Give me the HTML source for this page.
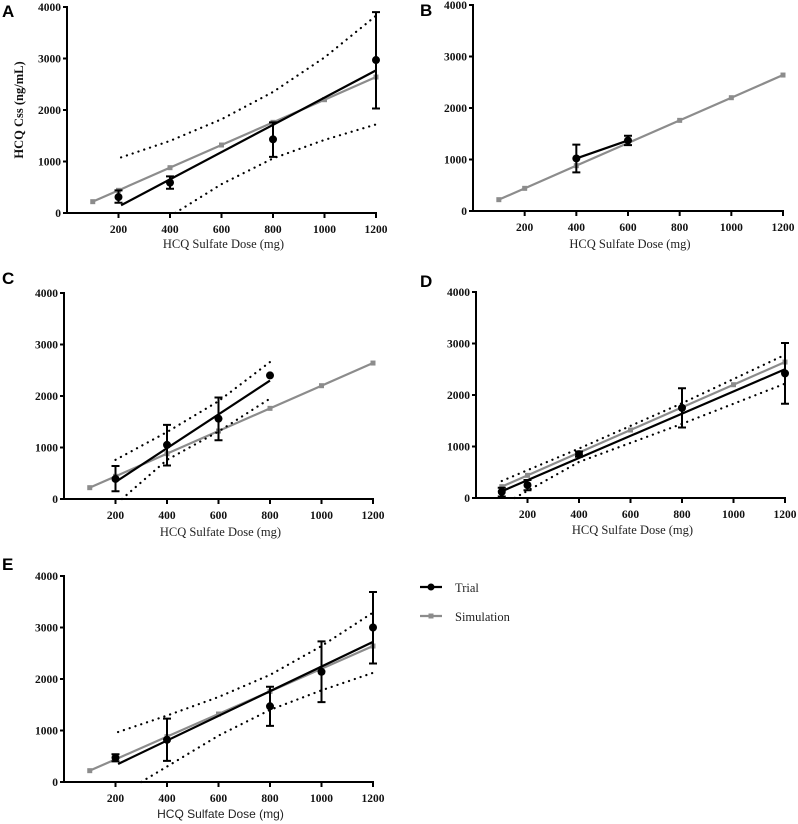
<!DOCTYPE html>
<html><head><meta charset="utf-8">
<style>
html,body{margin:0;padding:0;background:#fff;}
svg{display:block;}
.tick{font-family:"Liberation Serif",serif;font-weight:bold;font-size:11.5px;fill:#111;}
.xt{font-family:"Liberation Serif",serif;font-size:12.5px;fill:#222;}
.xts{font-family:"Liberation Sans",sans-serif;font-size:12px;fill:#222;}
.pl{font-family:"Liberation Sans",sans-serif;font-weight:bold;font-size:17px;fill:#000;}
.yt{font-family:"Liberation Serif",serif;font-weight:bold;font-size:12.5px;fill:#111;}
.lg{font-family:"Liberation Serif",serif;font-size:12.5px;fill:#222;}
</style></head>
<body>
<svg id="chart" width="798" height="824" viewBox="0 0 798 824" xmlns="http://www.w3.org/2000/svg"></svg>
<script>
const xTicks=[200,400,600,800,1000,1200];
const yTicks=[0,1000,2000,3000,4000];
const simDose=[100,200,400,600,800,1000,1200];
const simConc=[220,440,880,1320,1760,2200,2640];

const aDose=[200,400,800,1200];
const aMean=[310,590,1430,2970];
const aLo=[200,470,1090,2030];
const aHi=[440,710,1760,3900];
const aFitX=[210,1200];
const aFitY=[150,2770];
const aUpX=[210,400,600,800,1000,1200];
const aUpY=[1080,1400,1820,2350,3020,3830];
const aLoX=[420,600,800,1000,1200];
const aLoY=[0,560,1060,1420,1720];

const bDose=[400,600];
const bMean=[1020,1370];
const bLo=[750,1280];
const bHi=[1290,1460];
const bFitX=[400,600];
const bFitY=[1020,1370];

const cDose=[200,400,600,800];
const cMean=[390,1050,1560,2400];
const cLo=[150,650,1140,2400];
const cHi=[640,1440,1970,2400];
const cFitX=[200,800];
const cFitY=[330,2300];
const cUpX=[200,400,600,800];
const cUpY=[760,1300,1900,2660];
const cLoX=[225,400,600,800];
const cLoY=[0,760,1310,1950];

const dDose=[100,200,400,800,1200];
const dMean=[120,250,850,1750,2420];
const dLo=[30,150,800,1370,1830];
const dHi=[200,350,900,2130,3010];
const dFitX=[100,1200];
const dFitY=[130,2500];
const dUpX=[100,400,800,1200];
const dUpY=[330,960,1840,2780];
const dLoX=[150,400,800,1200];
const dLoY=[0,700,1440,2220];

const eDose=[200,400,800,1000,1200];
const eMean=[470,820,1470,2140,3000];
const eLo=[400,410,1090,1550,2300];
const eHi=[540,1230,1850,2730,3690];
const eFitX=[210,1200];
const eFitY=[350,2720];
const eUpX=[210,400,600,800,1000,1200];
const eUpY=[970,1290,1650,2080,2640,3290];
const eLoX=[300,400,600,800,1000,1200];
const eLoY=[0,300,900,1400,1780,2120];

const svg=document.getElementById('chart');
const NS='http://www.w3.org/2000/svg';
function mk(tag,attrs,parent,text){const e=document.createElementNS(NS,tag);for(const k in attrs)e.setAttribute(k,attrs[k]);if(text!==undefined)e.textContent=text;parent.appendChild(e);return e;}

const panels=[
 {id:'a',x0:67,x1:376,y0:213,y1:7,lbl:'A',lx:2,ly:17,tt:248,sans:false,dose:aDose,mean:aMean,lo:aLo,hi:aHi,fx:aFitX,fy:aFitY,ux:aUpX,uy:aUpY,lx2:aLoX,ly2:aLoY,ytitle:true},
 {id:'b',x0:473,x1:783,y0:211,y1:5,lbl:'B',lx:420,ly:16,tt:248,sans:false,dose:bDose,mean:bMean,lo:bLo,hi:bHi,fx:bFitX,fy:bFitY},
 {id:'c',x0:64,x1:373,y0:499,y1:293,lbl:'C',lx:2,ly:284,tt:536,sans:false,dose:cDose,mean:cMean,lo:cLo,hi:cHi,fx:cFitX,fy:cFitY,ux:cUpX,uy:cUpY,lx2:cLoX,ly2:cLoY},
 {id:'d',x0:476,x1:785,y0:498,y1:292,lbl:'D',lx:420,ly:287,tt:534,sans:false,dose:dDose,mean:dMean,lo:dLo,hi:dHi,fx:dFitX,fy:dFitY,ux:dUpX,uy:dUpY,lx2:dLoX,ly2:dLoY},
 {id:'e',x0:64,x1:373,y0:782,y1:576,lbl:'E',lx:2,ly:570,tt:818,sans:true,dose:eDose,mean:eMean,lo:eLo,hi:eHi,fx:eFitX,fy:eFitY,ux:eUpX,uy:eUpY,lx2:eLoX,ly2:eLoY}
];

panels.forEach(p=>{
 const sx=v=>p.x0+(p.x1-p.x0)*v/1200;
 const sy=v=>p.y0-(p.y0-p.y1)*v/4000;
 const g=mk('g',{},svg);
 
 
 const L=mk('text',{x:p.lx,y:p.ly,class:'pl'},g,p.lbl);
 
 
 const xa=mk('g',{},g);
 
 
 mk('line',{x1:p.x0-1,x2:p.x1+1,y1:p.y0,y2:p.y0,stroke:'#000','stroke-width':2},xa);
 xTicks.forEach(t=>{
  mk('line',{x1:sx(t),x2:sx(t),y1:p.y0,y2:p.y0+5,stroke:'#000','stroke-width':2},xa);
  const tl=mk('text',{x:sx(t),y:p.y0+20,class:'tick','text-anchor':'middle'},xa,String(t));
  
  
 });
 const ya=mk('g',{},g);
 
 
 mk('line',{x1:p.x0,x2:p.x0,y1:p.y1-1,y2:p.y0+1,stroke:'#000','stroke-width':2},ya);
 yTicks.forEach(t=>{
  mk('line',{x1:p.x0-4,x2:p.x0,y1:sy(t),y2:sy(t),stroke:'#000','stroke-width':2},ya);
  const tl=mk('text',{x:p.x0-6,y:sy(t)+4,class:'tick','text-anchor':'end'},ya,String(t));
  
  
 });
 const xt=mk('text',{x:(p.x0+p.x1)/2+2,y:p.tt,class:p.sans?'xts':'xt','text-anchor':'middle'},g,'HCQ Sulfate Dose (mg)');
 
 
 if(p.ytitle){
  const yt=mk('text',{x:0,y:0,class:'yt','text-anchor':'middle',transform:'translate(23,'+((p.y0+p.y1)/2)+') rotate(-90)'},g,'HCQ Css (ng/mL)');
  
  
 }
 const sim=mk('polyline',{points:simDose.map((d,i)=>sx(d)+','+sy(simConc[i])).join(' '),fill:'none',stroke:'#8c8c8c','stroke-width':2.2},g);
 
 
 simDose.forEach((d,i)=>{
  const m=mk('rect',{x:sx(d)-2.5,y:sy(simConc[i])-2.5,width:5,height:5,fill:'#8c8c8c'},g);
  
  
 });
 if(p.ux){
  const u=mk('polyline',{points:p.ux.map((d,i)=>sx(d)+','+sy(p.uy[i])).join(' '),fill:'none',stroke:'#000','stroke-width':2.2,'stroke-dasharray':'0.1 6','stroke-linecap':'round'},g);
  
  
  const l=mk('polyline',{points:p.lx2.map((d,i)=>sx(d)+','+sy(p.ly2[i])).join(' '),fill:'none',stroke:'#000','stroke-width':2.2,'stroke-dasharray':'0.1 6','stroke-linecap':'round'},g);
  
  
 }
 const f=mk('polyline',{points:p.fx.map((d,i)=>sx(d)+','+sy(p.fy[i])).join(' '),fill:'none',stroke:'#000','stroke-width':2.2},g);
 
 
 p.dose.forEach((d,i)=>{
  const x=sx(d);
  if(p.hi[i]!==p.lo[i]){
   const eb=mk('path',{d:'M'+x+','+sy(p.lo[i])+'V'+sy(p.hi[i])+'M'+(x-4)+','+sy(p.lo[i])+'h8M'+(x-4)+','+sy(p.hi[i])+'h8',stroke:'#000','stroke-width':2,fill:'none'},g);
   
   
  }
  const c=mk('circle',{cx:x,cy:sy(p.mean[i]),r:4,fill:'#000'},g);
  
  
 });
});

const lg=mk('g',{},svg);


const t1=mk('g',{},lg);


mk('line',{x1:420,x2:442,y1:587,y2:587,stroke:'#000','stroke-width':2.2},t1);
mk('circle',{cx:431,cy:587,r:3.5,fill:'#000'},t1);
mk('text',{x:455,y:592,class:'lg'},t1,'Trial');
const t2=mk('g',{},lg);


mk('line',{x1:420,x2:442,y1:616,y2:616,stroke:'#8c8c8c','stroke-width':2.2},t2);
mk('rect',{x:428.5,y:613.5,width:5,height:5,fill:'#8c8c8c'},t2);
mk('text',{x:455,y:621,class:'lg'},t2,'Simulation');
</script>
</body></html>
